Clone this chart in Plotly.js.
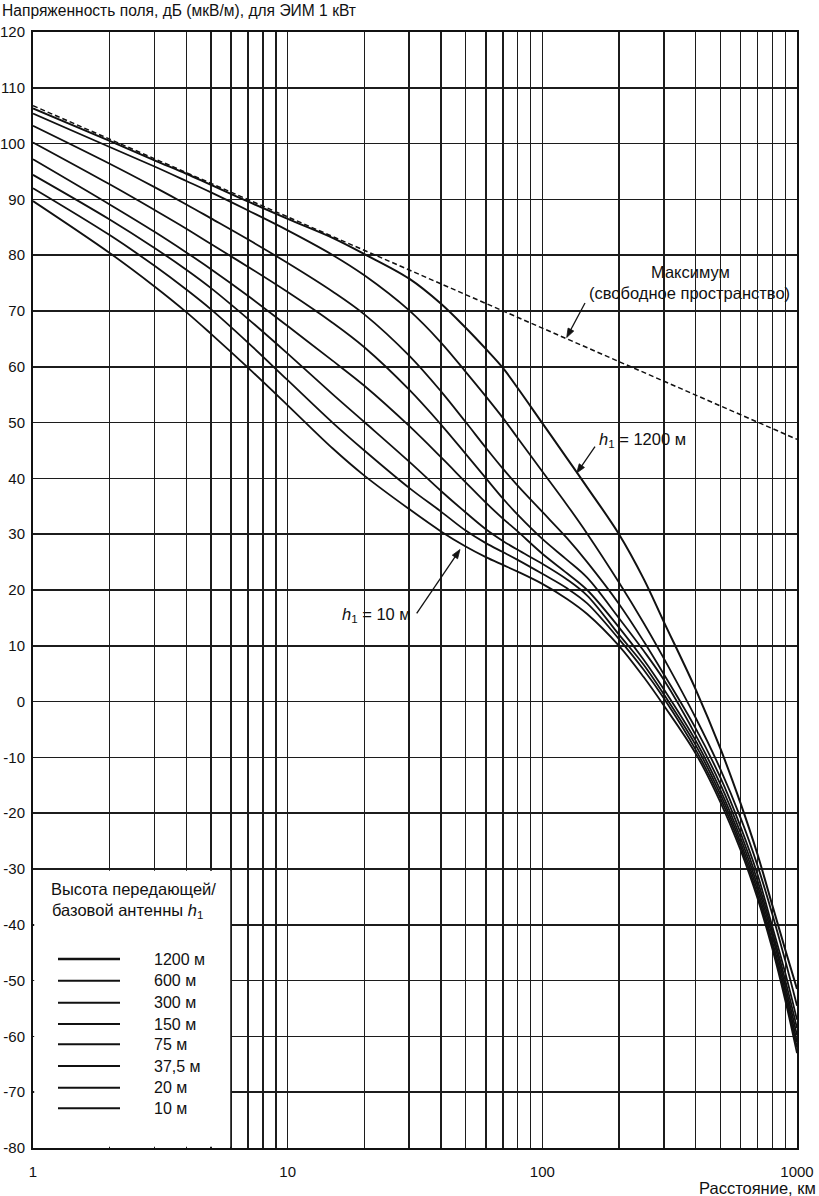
<!DOCTYPE html>
<html>
<head>
<meta charset="utf-8">
<script src="https://cdn.plot.ly/plotly-3.0.1.min.js"></script>
<style>
  html, body { margin: 0; padding: 0; background: #fff; }
  #chart { width: 819px; height: 1196px; }
</style>
</head>
<body>
<div id="chart"></div>
<script>
// ---- data ----
const distKm = [1, 2, 3, 4, 5, 7, 10, 15, 20, 30, 40, 50, 60, 70, 80, 100, 125, 150, 200, 250, 300, 400, 500, 600, 700, 800, 900, 1000];

const h1200 = [106.3, 100.5, 97.0, 94.6, 92.6, 89.6, 86.5, 83.1, 80.2, 75.8, 71.3, 67.0, 63.2, 59.8, 56.2, 49.9, 43.6, 38.4, 30.0, 22.0, 14.3, 2.2, -8.4, -18.2, -27.4, -36.5, -44.5, -51.5];
const h600  = [105.4, 99.4, 95.9, 93.3, 91.25, 88.0, 84.45, 80.05, 76.4, 70.1, 64.35, 59.1, 54.7, 50.85, 47.25, 41.25, 35.25, 30.1, 21.35, 14.1, 7.75, -2.9, -12.1, -20.8, -29.4, -38.1, -46.5, -54.5];
const h300  = [103.2, 96.4, 92.2, 89.1, 86.6, 82.8, 78.6, 73.5, 69.4, 62.0, 55.6, 50.1, 45.5, 41.75, 38.7, 34.0, 29.3, 25.0, 17.5, 10.8, 4.9, -4.8, -13.6, -22.4, -31.0, -40.3, -48.7, -57.0];
const h150  = [100.2, 92.7, 88.1, 84.75, 82.0, 77.9, 73.4, 67.9, 63.5, 55.9, 49.65, 44.4, 40.05, 36.4, 33.5, 29.15, 25.4, 22.2, 14.95, 9.1, 3.9, -6.0, -14.8, -23.5, -32.1, -41.2, -50.0, -58.5];
const h75   = [97.2, 89.1, 84.2, 80.5, 77.5, 72.7, 67.3, 61.1, 56.6, 49.4, 43.8, 39.3, 35.65, 32.8, 30.5, 26.5, 23.0, 20.0, 13.3, 7.5, 2.2, -7.0, -15.8, -24.4, -33.0, -42.0, -51.0, -59.8];
const h37_5 = [94.4, 86.4, 81.3, 77.4, 74.1, 68.55, 62.35, 55.1, 50.1, 43.0, 37.75, 33.9, 30.9, 28.8, 27.2, 24.7, 21.9, 19.0, 12.0, 6.6, 1.3, -7.8, -16.6, -25.2, -33.8, -43.0, -51.9, -61.0];
const h20   = [92.0, 83.6, 78.1, 73.85, 70.3, 64.3, 57.6, 50.0, 45.0, 38.3, 34.05, 30.65, 28.4, 26.8, 25.4, 22.9, 20.3, 17.6, 11.2, 5.7, 0.6, -8.6, -17.3, -25.9, -34.6, -43.7, -52.8, -62.0];
const h10   = [89.7, 80.4, 74.4, 69.8, 65.9, 59.8, 53.1, 45.4, 40.5, 34.5, 30.5, 27.8, 25.9, 24.5, 23.3, 21.1, 18.4, 15.7, 10.0, 4.4, -0.7, -9.3, -18.0, -26.6, -35.3, -44.3, -53.6, -63.0];

const freeSpaceKm = [1, 10, 100, 1000];
const freeSpaceDb = [106.8, 86.9, 66.9, 47.0];

const seriesLabels = ['1200 м', '600 м', '300 м', '150 м', '75 м', '37,5 м', '20 м', '10 м'];
const seriesValues = [h1200, h600, h300, h150, h75, h37_5, h20, h10];

const xTickVals = [1,2,3,4,5,6,7,8,9,10,20,30,40,50,60,70,80,90,100,200,300,400,500,600,700,800,900,1000];
const xTickText = ['1','','','','','','','','','10','','','','','','','','','100','','','','','','','','','1000'];
const yTickVals = [-80,-70,-60,-50,-40,-30,-20,-10,0,10,20,30,40,50,60,70,80,90,100,110,120];
const yTickText = ['-80','-70','-60','-50','-40','-30','-20','-10','0','10','20','30','40','50','60','70','80','90','100','110','120'];

// ---- drawing ----
const FONT = 'Liberation Sans, Arial, Helvetica, sans-serif';
const INK = '#111';

const traces = seriesValues.map((vals, i) => ({
  x: distKm, y: vals, type: 'scatter', mode: 'lines', name: seriesLabels[i],
  line: { color: INK, width: i === 0 ? 2.0 : 1.8, shape: 'spline', smoothing: 1.0 },
  showlegend: false, hoverinfo: 'skip'
}));
traces.push({
  x: freeSpaceKm, y: freeSpaceDb, type: 'scatter', mode: 'lines', name: 'Максимум',
  line: { color: INK, width: 1.5, dash: '5px,3px' }, showlegend: false, hoverinfo: 'skip'
});

// plot area in pixels: left 33, right 797, top 32, bottom 1148
const L = 33, R = 797, T = 32, B = 1148;
const px = x => (x - L) / (R - L);
const py = y => (B - y) / (B - T);

const shapes = [{
  type: 'rect', layer: 'above', xref: 'paper', yref: 'paper',
  x0: px(34.2), x1: px(230.2), y0: py(1146.8), y1: py(870.8),
  fillcolor: '#fff', line: { width: 0 }
}];

// callout arrows (tail -> tip, in page pixels)
function addArrow(tx, ty, hx, hy) {
  const dx = hx - tx, dy = hy - ty, len = Math.hypot(dx, dy);
  const ux = dx / len, uy = dy / len, nx = -uy, ny = ux;
  const headL = 9, headW = 3.2;
  const bx = hx - ux * headL, by = hy - uy * headL;
  shapes.push({ type: 'line', layer: 'above', xref: 'paper', yref: 'paper',
    x0: px(tx), y0: py(ty), x1: px(bx + ux * 2), y1: py(by + uy * 2), line: { color: INK, width: 1.3 } });
  const p = [[hx, hy], [bx + nx * headW, by + ny * headW], [bx - nx * headW, by - ny * headW]];
  shapes.push({ type: 'path', layer: 'above', xref: 'paper', yref: 'paper',
    path: 'M' + p.map(q => px(q[0]) + ',' + py(q[1])).join(' L') + ' Z',
    fillcolor: INK, line: { color: INK, width: 0.8 } });
}
addArrow(585, 303, 566.7, 337.5);
addArrow(595, 446.7, 576.7, 473.0);
addArrow(416.7, 613.3, 460, 549.5);

const legendY = [959, 980.7, 1002.7, 1024, 1044.3, 1066, 1087.7, 1108.3];
const annotations = [];
seriesLabels.forEach((lab, i) => {
  shapes.push({ type: 'line', layer: 'above', xref: 'paper', yref: 'paper', x0: px(58), x1: px(120),
    y0: py(legendY[i]), y1: py(legendY[i]), line: { color: INK, width: i === 0 ? 2.6 : 2.0 } });
  annotations.push({ xref: 'paper', yref: 'paper', x: px(152), y: py(legendY[i]), xanchor: 'left', yanchor: 'middle',
    text: lab, showarrow: false, font: { family: FONT, size: 16, color: INK } });
});
annotations.push(
  { xref: 'paper', yref: 'paper', x: px(133), y: py(889), xanchor: 'center', yanchor: 'middle',
    text: 'Высота передающей/', showarrow: false, font: { family: FONT, size: 16.5, color: INK } },
  { xref: 'paper', yref: 'paper', x: px(127), y: py(911), xanchor: 'center', yanchor: 'middle',
    text: 'базовой антенны <i>h</i><sub>1</sub>', showarrow: false, font: { family: FONT, size: 16.5, color: INK } },
  { xref: 'paper', yref: 'paper', x: px(0), y: py(10), xanchor: 'left', yanchor: 'middle',
    text: 'Напряженность поля, дБ (мкВ/м), для ЭИМ 1 кВт', showarrow: false, font: { family: FONT, size: 15.6, color: INK } },
  { xref: 'paper', yref: 'paper', x: px(818), y: py(1188), xanchor: 'right', yanchor: 'middle',
    text: 'Расстояние, км', showarrow: false, font: { family: FONT, size: 16.5, color: INK } },
  { xref: 'paper', yref: 'paper', x: px(690), y: py(272), xanchor: 'center', yanchor: 'middle',
    text: 'Максимум', showarrow: false, font: { family: FONT, size: 16.5, color: INK } },
  { xref: 'paper', yref: 'paper', x: px(689), y: py(293), xanchor: 'center', yanchor: 'middle',
    text: '(свободное пространство)', showarrow: false, font: { family: FONT, size: 16.5, color: INK } },
  { xref: 'paper', yref: 'paper', x: px(642), y: py(440), xanchor: 'center', yanchor: 'middle',
    text: '<i>h</i><sub>1</sub> = 1200 м', showarrow: false, font: { family: FONT, size: 16.5, color: INK } },
  { xref: 'paper', yref: 'paper', x: px(376), y: py(615), xanchor: 'center', yanchor: 'middle',
    text: '<i>h</i><sub>1</sub> = 10 м', showarrow: false, font: { family: FONT, size: 16.5, color: INK } }
);

const axisCommon = {
  showgrid: true, gridcolor: '#1c1c1c', gridwidth: 1.5,
  showline: true, mirror: true, linecolor: INK, linewidth: 2,
  ticks: '', zeroline: false, tickfont: { family: FONT, size: 15, color: INK }
};

const layout = {
  width: 819, height: 1196,
  margin: { l: L, r: 819 - R, t: T, b: 1196 - B, pad: 0 },
  paper_bgcolor: '#fff', plot_bgcolor: '#fff',
  showlegend: false,
  xaxis: Object.assign({}, axisCommon, {
    type: 'log', range: [0, 3], tickmode: 'array', tickvals: xTickVals, ticktext: xTickText,
    ticklabelstandoff: 9
  }),
  yaxis: Object.assign({}, axisCommon, {
    range: [-80, 120], tickmode: 'array', tickvals: yTickVals, ticktext: yTickText,
    ticklabelstandoff: 3
  }),
  shapes: shapes,
  annotations: annotations
};

Plotly.newPlot('chart', traces, layout, { staticPlot: true, displayModeBar: false });
</script>
</body>
</html>
